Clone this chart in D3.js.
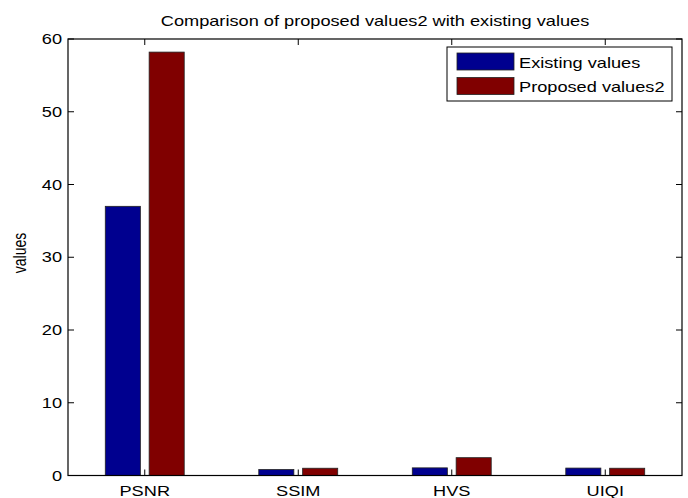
<!DOCTYPE html>
<html>
<head>
<meta charset="utf-8">
<script src="https://cdn.jsdelivr.net/npm/d3@7"></script>
<style>
  html, body { margin: 0; padding: 0; background: #fff; }
  svg { display: block; }
  text { font-family: "Liberation Sans", Arial, sans-serif; fill: #000; }
</style>
</head>
<body>
<svg id="chart" width="688" height="498"></svg>
<script>
// Metric names along the x axis
const categories = ["PSNR", "SSIM", "HVS", "UIQI"];
// Series values per metric
const existingValues = [37, 0.82, 1.05, 1.02];
const proposedValues = [58.2, 1.0, 2.45, 1.0];
const seriesNames = ["Existing values", "Proposed values2"];
const yTicks = [0, 10, 20, 30, 40, 50, 60];
const titleText = "Comparison of proposed values2 with existing values";
const yLabelText = "values";

const colors = ["#00008f", "#800000"];
const FONT = 14, SX = 1.3; // glyphs drawn slightly wide

const svg = d3.select("#chart");
const m = { left: 68, right: 682, top: 39, bottom: 475.5 };

const x0 = d3.scaleBand().domain(categories).range([m.left, m.right]).paddingInner(0).paddingOuter(0);
const bw = x0.bandwidth();
const x1 = d3.scaleBand().domain(seriesNames)
  .range([bw / 2 - 0.2857 * bw, bw / 2 + 0.2857 * bw])
  .paddingInner(0.2).paddingOuter(0.1);
const y = d3.scaleLinear().domain([0, 60]).range([m.bottom, m.top]);

const rows = categories.map((c, i) => ({ c, v: [existingValues[i], proposedValues[i]] }));

// bars
const g = svg.append("g");
rows.forEach(r => {
  r.v.forEach((v, j) => {
    g.append("rect")
      .attr("x", x0(r.c) + x1(seriesNames[j]))
      .attr("width", x1.bandwidth())
      .attr("y", y(v))
      .attr("height", y(0) - y(v))
      .attr("fill", colors[j])
      .attr("stroke", "#222")
      .attr("stroke-width", 0.8);
  });
});

// axes box
svg.append("rect")
  .attr("x", m.left).attr("y", m.top)
  .attr("width", m.right - m.left).attr("height", m.bottom - m.top)
  .attr("fill", "none").attr("stroke", "#000").attr("stroke-width", 1.2);

// ticks (inward, mirrored)
const tk = 6;
const ticks = svg.append("g").attr("stroke", "#000").attr("stroke-width", 1);
yTicks.forEach(t => {
  ticks.append("line").attr("x1", m.left).attr("x2", m.left + tk).attr("y1", y(t)).attr("y2", y(t));
  ticks.append("line").attr("x1", m.right).attr("x2", m.right - tk).attr("y1", y(t)).attr("y2", y(t));
});
categories.forEach(c => {
  const cx = x0(c) + bw / 2;
  ticks.append("line").attr("x1", cx).attr("x2", cx).attr("y1", m.bottom).attr("y2", m.bottom - tk);
  ticks.append("line").attr("x1", cx).attr("x2", cx).attr("y1", m.top).attr("y2", m.top + tk);
});

function label(txt, x, yy, anchor, rot) {
  const t = svg.append("g")
    .attr("transform", `translate(${x},${yy}) scale(${SX},1)` + (rot ? ` rotate(${rot})` : ""));
  t.append("text").attr("text-anchor", anchor).attr("font-size", FONT).text(txt);
  return t;
}

// y tick labels
yTicks.forEach(t => label(String(t), 62, y(t) + 5, "end"));
// x tick labels
categories.forEach(c => label(c, x0(c) + bw / 2, 495.5, "middle"));
// title
label(titleText, (m.left + m.right) / 2, 26, "middle");
// y axis label
label(yLabelText, 26, 253, "middle", -90);

// legend
const lg = svg.append("g");
lg.append("rect").attr("x", 447).attr("y", 47).attr("width", 225).attr("height", 54)
  .attr("fill", "#fff").attr("stroke", "#000").attr("stroke-width", 1);
seriesNames.forEach((s, j) => {
  const yy = 53 + j * 24.5;
  lg.append("rect").attr("x", 457).attr("y", yy).attr("width", 57).attr("height", 17)
    .attr("fill", colors[j]).attr("stroke", "#222").attr("stroke-width", 0.8);
  label(s, 519, yy + 14.5, "start");
});
</script>
</body>
</html>
